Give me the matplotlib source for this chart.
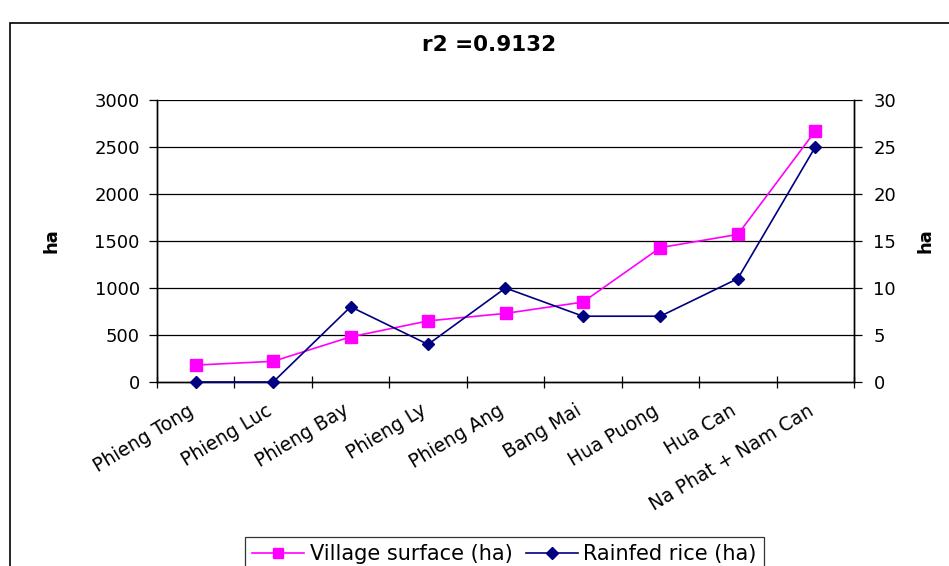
import matplotlib
matplotlib.use("Agg")
import matplotlib.pyplot as plt
from matplotlib.patches import Rectangle
from matplotlib.lines import Line2D

# Data
villages = ["Phieng Tong", "Phieng Luc", "Phieng Bay", "Phieng Ly", "Phieng Ang",
            "Bang Mai", "Hua Puong", "Hua Can", "Na Phat + Nam Can"]
village_surface = [180, 220, 480, 650, 730, 850, 1430, 1570, 2670]
rainfed_rice = [0, 0, 8, 4, 10, 7, 7, 11, 25]
left_ticks = [0, 500, 1000, 1500, 2000, 2500, 3000]
right_ticks = [0, 5, 10, 15, 20, 25, 30]
title_text = "r2 =0.9132"

plt.rcParams["font.family"] = ["DejaVu Sans"]

W, H = 949, 566
fig = plt.figure(figsize=(W / 100, H / 100), dpi=100)
fig.patch.set_facecolor("white")

ax = fig.add_axes([157 / W, 1 - 382 / H, (854 - 157) / W, (382 - 100) / H])
ax2 = ax.twinx()

x = list(range(len(villages)))
pink = "#FF00FF"
navy = "#000080"

ax.plot(x, village_surface, color=pink, lw=1.2, marker="s", markersize=8,
        markeredgecolor=pink, markerfacecolor=pink, zorder=3, clip_on=False)
ax2.plot(x, rainfed_rice, color=navy, lw=1.2, marker="D", markersize=6.5,
         markeredgecolor=navy, markerfacecolor=navy, zorder=3, clip_on=False)

ax.set_xlim(-0.5, len(villages) - 0.5)
ax.set_ylim(0, 3000)
ax2.set_ylim(0, 30)
ax.set_yticks(left_ticks)
ax2.set_yticks(right_ticks)

# gridlines at left-axis major ticks
for v in left_ticks[1:]:
    ax.axhline(v, color="black", lw=0.9, zorder=1)

# category boundary ticks on the x axis
ax.set_xticks([i - 0.5 for i in range(len(villages) + 1)])
ax.set_xticklabels([])
ax.tick_params(axis="x", direction="inout", length=8, width=0.9, color="black")
for i, name in enumerate(villages):
    ax.annotate(name, xy=(i, 0), xycoords=("data", "axes fraction"),
                xytext=(-8, -19), textcoords="offset pixels",
                rotation=31, rotation_mode="anchor", ha="right", va="top",
                fontsize=13.5)

ax.tick_params(axis="y", direction="out", length=5.5, width=0.9, pad=7, labelsize=13)
ax2.tick_params(axis="y", direction="out", length=6, width=0.9, pad=8, labelsize=13)

for a in (ax, ax2):
    for s in ("left", "right", "bottom"):
        a.spines[s].set_linewidth(1.0)
        a.spines[s].set_color("black")
    a.spines["top"].set_visible(False)
    a.set_facecolor("none")

fig.text(489 / W, 1 - 45 / H, title_text, ha="center", va="center",
         fontsize=15.5, fontweight="bold")
fig.text(52 / W, 1 - 241 / H, "ha", rotation=90, ha="center", va="center",
         fontsize=13, fontweight="bold")
fig.text(925 / W, 1 - 241 / H, "ha", rotation=90, ha="center", va="center",
         fontsize=13, fontweight="bold")

handles = [
    Line2D([], [], color=pink, lw=1.2, marker="s", markersize=7,
           markerfacecolor=pink, markeredgecolor=pink),
    Line2D([], [], color=navy, lw=1.2, marker="D", markersize=6,
           markerfacecolor=navy, markeredgecolor=navy),
]
leg = fig.legend(handles, ["Village surface (ha)", "Rainfed rice (ha)"],
                 loc="upper center", bbox_to_anchor=(504.5 / W, 1 - 537 / H),
                 ncol=2, fontsize=15, frameon=True, fancybox=False,
                 edgecolor="black", borderaxespad=0, handlelength=2.5,
                 handletextpad=0.25, columnspacing=0.65, borderpad=0.35)
leg.get_frame().set_linewidth(0.9)

# outer chart border
fig.patches.append(Rectangle((10 / W, -0.2), 1.2, 1.2 - 23 / H,
                             transform=fig.transFigure, fill=False,
                             edgecolor="black", lw=1.2))

fig.savefig("out.png", dpi=100, facecolor="white")
